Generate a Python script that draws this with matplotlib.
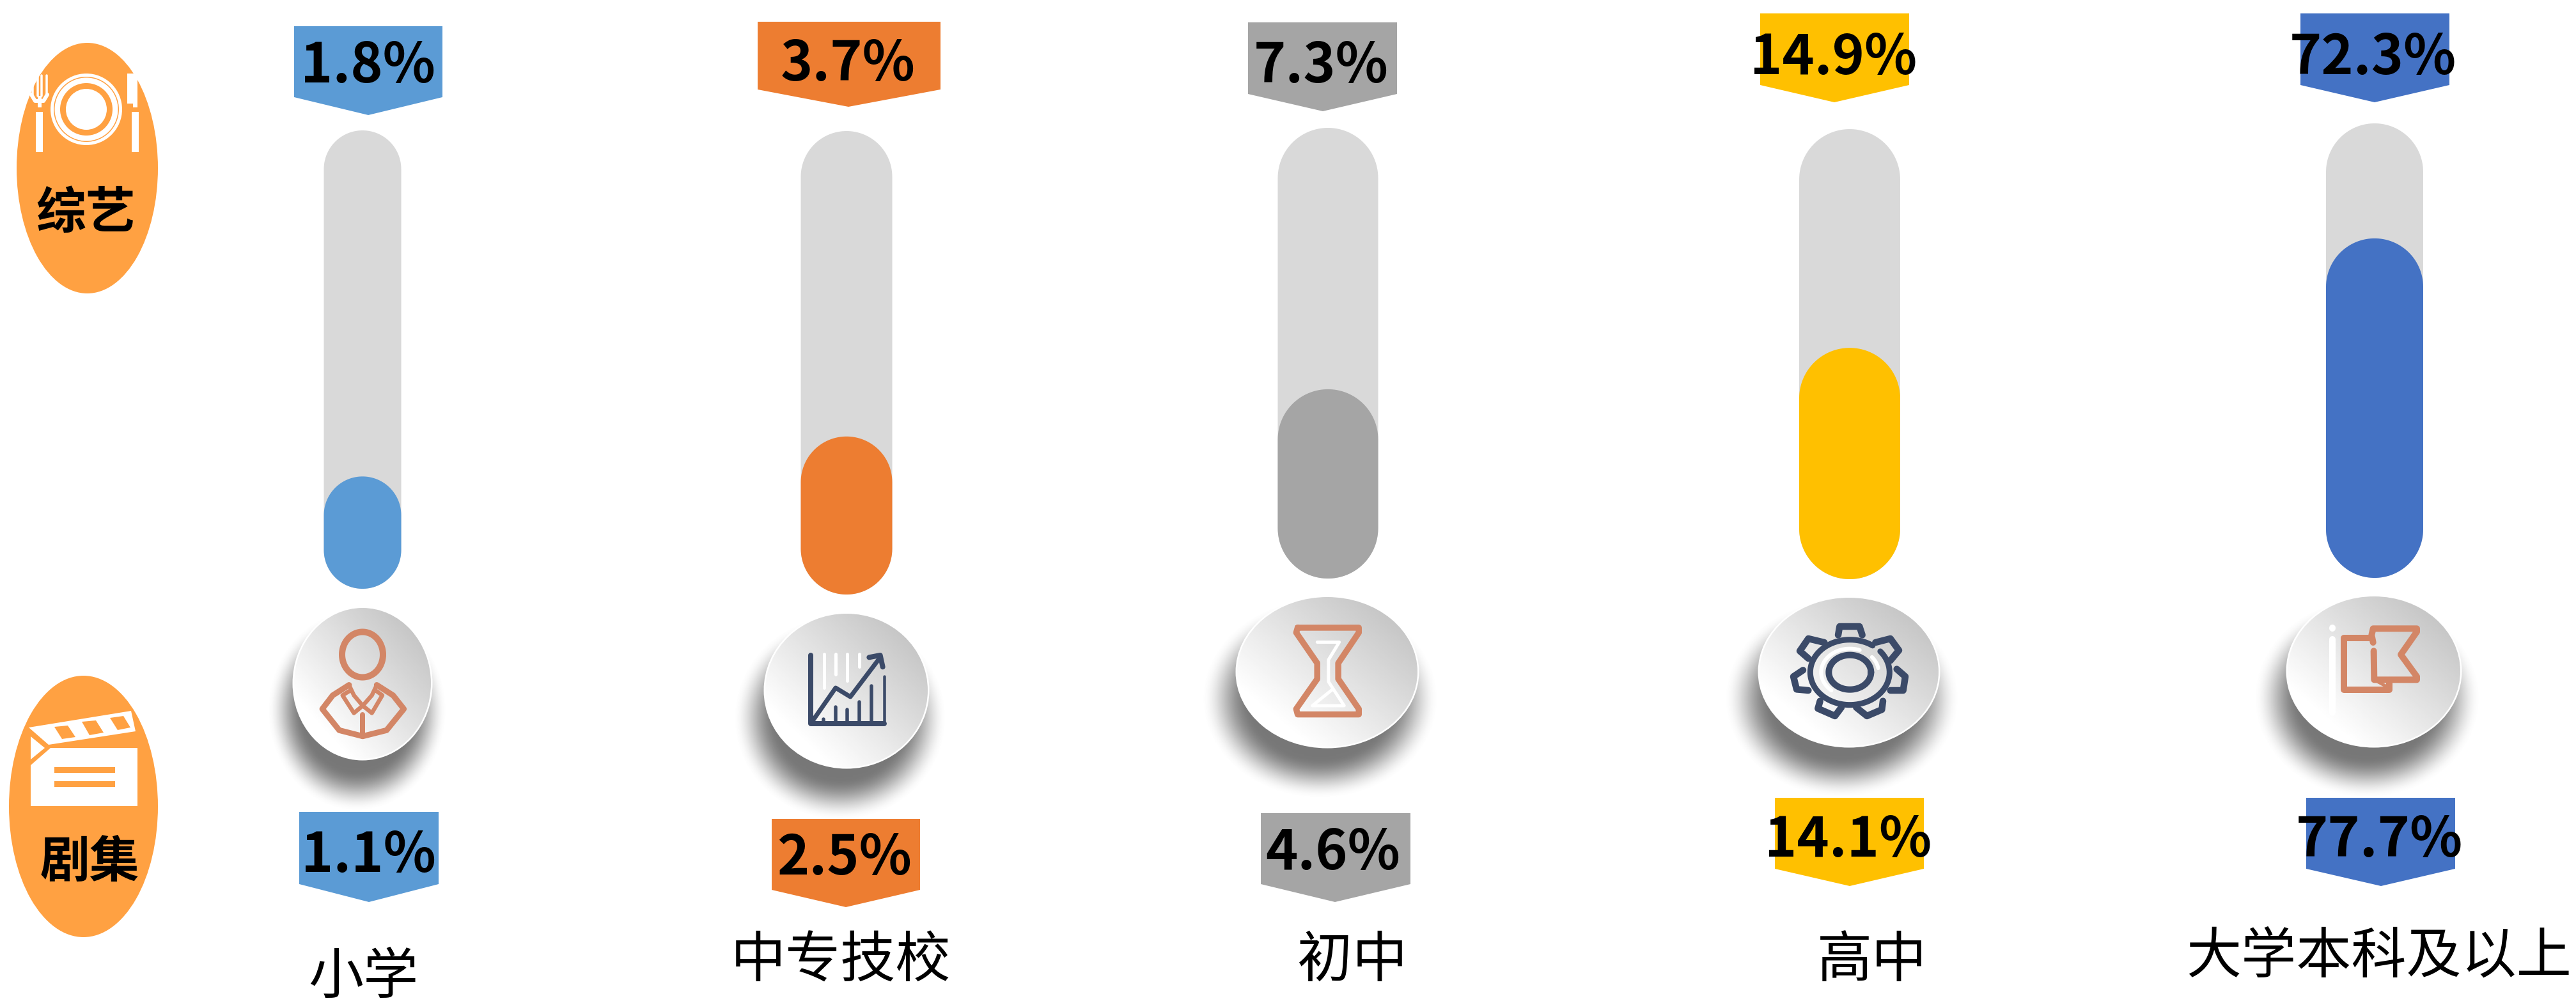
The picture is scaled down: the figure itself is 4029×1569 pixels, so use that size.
import numpy as np
import matplotlib
matplotlib.use('Agg')
import matplotlib.pyplot as plt
from matplotlib.patches import Ellipse, Polygon, Rectangle, Circle

plt.rcParams['font.family'] = ['Noto Sans CJK SC', 'DejaVu Sans']

# data
categories = ['小学', '中专技校', '初中', '高中', '大学本科及以上']
variety_share = [1.8, 3.7, 7.3, 14.9, 72.3]
drama_share = [1.1, 2.5, 4.6, 14.1, 77.7]
# how far each pill is filled (the picture does not fill them in proportion)
fill_level = [0.245, 0.341, 0.42, 0.514, 0.747]

colors = ['#5B9BD5', '#ED7D31', '#A5A5A5', '#FFC000', '#4472C4']
TRACK = '#D9D9D9'
BADGE = '#FFA142'
RUST = '#D38666'
NAVY = '#3B4A68'

# layout in pixels of the 4030x1569 canvas
track_x = [567, 1324, 2077, 2893, 3714]
track_w = [121, 143, 157, 158, 152]
track_top = [204, 205, 200, 202, 193]
track_bot = [921, 930, 905, 906, 904]

top_tags = [(460, 692, 41, 152, 180, 576), (1185, 1471, 34, 140, 167, 1327),
            (1952, 2185, 35, 147, 174, 2069), (2753, 2986, 21, 133, 160, 2869),
            (3598, 3831, 21, 133, 160, 3714)]
bot_tags = [(468, 686, 1270, 1383, 1411, 577), (1207, 1439, 1281, 1392, 1419, 1323),
            (1972, 2206, 1272, 1383, 1411, 2088), (2776, 3009, 1248, 1359, 1386, 2893),
            (3607, 3840, 1248, 1359, 1386, 3724)]
top_text = [(575, 129), (1326, 126), (2066, 129), (2868, 116), (3711, 116)]
bot_text = [(576, 1364), (1321, 1368), (2085, 1360), (2891, 1340), (3721, 1340)]
label_pos = [(568, 1530), (1315, 1504), (2115, 1504), (2928, 1504), (3721, 1497)]
plates = [(567, 1069, 107, 118), (1324, 1080, 127, 120), (2076, 1051, 141, 117),
          (2892, 1051, 140, 116), (3713, 1050, 135, 117)]

fig = plt.figure(figsize=(40.3, 15.69), dpi=100)
ax = fig.add_axes([0, 0, 1, 1])


def pill(cx, w, top, bot, color):
    r = w / 2
    a = np.linspace(np.pi, 0, 60)
    xs = np.r_[cx + r * np.cos(a), cx + r * np.cos(a[::-1])]
    ys = np.r_[top + r - r * np.sin(a), bot - r + r * np.sin(a[::-1])]
    ax.add_patch(Polygon(np.c_[xs, ys], closed=True, fc=color, ec='none'))


def tag(spec, color):
    x0, x1, top, shoulder, tip, tip_x = spec
    pts = [(x0, top), (x1, top), (x1, shoulder), (tip_x, tip), (x0, shoulder)]
    ax.add_patch(Polygon(pts, closed=True, fc=color, ec='none'))


def plate(cx, cy, rx, ry):
    # soft shadow, falls down and to the left
    sx, sy = cx - 0.08 * rx, cy + 0.36 * ry
    xs = np.arange(cx - 2 * rx, cx + 2 * rx, 2.0)
    ys = np.arange(cy - 2 * ry, cy + 2 * ry, 2.0)
    xx, yy = np.meshgrid(xs, ys)
    d = np.hypot((xx - sx) / (rx * 1.08), (yy - sy) / (ry * 1.1))
    t = np.clip((1.22 - d) / 0.5, 0, 1)
    t = t * t * (3 - 2 * t)
    shadow = np.zeros(xx.shape + (4,))
    shadow[..., :3] = 0.47
    shadow[..., 3] = t
    ax.imshow(shadow, extent=(xs[0], xs[-1], ys[-1], ys[0]), aspect='auto', zorder=2,
              interpolation='bilinear')

    # white rim and the light-grey gradient
    ax.add_patch(Ellipse((cx, cy), 2 * rx + 5, 2 * ry + 5, fc='white', ec='none', zorder=3))
    u = np.linspace(0, 1, 120)
    gx, gy = np.meshgrid(u, u)
    g = 0.5 * (gx + (1 - gy))
    shade = 1.0 - 0.22 * np.clip((g - 0.2) / 0.65, 0, 1)
    im = ax.imshow(shade, extent=(cx - rx, cx + rx, cy + ry, cy - ry), cmap='gray', vmin=0, vmax=1,
                   aspect='auto', zorder=4, interpolation='bilinear')
    im.set_clip_path(Ellipse((cx, cy), 2 * rx, 2 * ry, transform=ax.transData))


def line(pts, color, lw, ox=0, oy=0, kx=1.0, ky=1.0, closed=False, z=5):
    pts = list(pts) + ([pts[0]] if closed else [])
    xs = [ox + p[0] / kx for p in pts]
    ys = [oy + p[1] / ky for p in pts]
    ax.plot(xs, ys, color=color, lw=lw * 0.72, solid_capstyle='round', solid_joinstyle='round', zorder=z)


def ring(cx, cy, rx, ry, color, lw, a0=0, a1=360, z=5):
    a = np.radians(np.linspace(a0, a1, 90))
    ax.plot(cx + rx * np.cos(a), cy + ry * np.sin(a), color=color, lw=lw * 0.72,
            solid_capstyle='round', zorder=z)


def person_icon():
    k = dict(ox=0, oy=900, kx=1.96, ky=2.344)
    ring(567, 1024, 32, 35.5, RUST, 10)
    line([(1070, 402), (1020, 440), (988, 490), (1040, 568), (1112, 590), (1185, 568), (1238, 490),
          (1205, 440), (1155, 402)], RUST, 9, **k)
    line([(1070, 402), (1085, 440), (1112, 478), (1085, 505), (1050, 440), (1070, 425)], RUST, 6.5, **k)
    line([(1155, 402), (1140, 440), (1112, 478), (1140, 505), (1172, 440), (1155, 425)], RUST, 6.5, **k)
    line([(1112, 510), (1112, 590)], RUST, 8, **k)


def chart_icon():
    k = dict(ox=1200, oy=950, kx=3, ky=3)
    for x, y0 in [(267, 378), (321, 315), (376, 345), (433, 280)]:
        line([(x, 220), (x, y0)], 'white', 5, **k)
    line([(204, 225), (204, 545), (548, 545)], NAVY, 8, **k)
    line([(548, 545), (548, 325)], NAVY, 4.5, **k)
    for x, y0 in [(265, 525), (321, 468), (376, 480), (433, 445), (490, 368)]:
        line([(x, y0), (x, 545)], NAVY, 5.5, **k)
    line([(215, 530), (321, 378), (390, 420), (530, 235)], NAVY, 7, **k)
    line([(478, 235), (530, 225), (542, 280)], NAVY, 8, **k)


def hourglass_icon():
    k = dict(ox=1100, oy=900, kx=1.307, ky=2.344)
    line([(1255, 245), (1300, 245), (1278, 310), (1278, 390), (1310, 478), (1245, 478), (1285, 420)],
         'white', 5, **k)
    line([(1215, 192), (1340, 192), (1340, 210), (1298, 322), (1298, 380), (1340, 490), (1340, 510),
          (1215, 510), (1212, 490), (1255, 380), (1255, 322), (1212, 210)], RUST, 9.5, closed=True, **k)


def gear_icon():
    k = dict(ox=2760, oy=930, kx=3, ky=3)
    cx, cy = 2760 + 400 / 3, 930 + 365 / 3
    ring(cx, cy, 45, 37, 'white', 6, 130, 290)
    ring(cx, cy, 45, 37, 'white', 6, 320, 350)
    ring(cx, cy, 33, 27, NAVY, 10)
    ring(cx, cy, 62, 51, NAVY, 9, -40, 305)
    teeth = [[(345, 190), (352, 150), (445, 150), (458, 190)],
             [(520, 225), (590, 207), (630, 262), (590, 310)],
             [(620, 350), (660, 385), (650, 450), (590, 450)],
             [(555, 500), (550, 540), (480, 570), (430, 530)],
             [(360, 530), (330, 570), (250, 535), (260, 500)],
             [(205, 450), (150, 445), (135, 385), (180, 355)],
             [(205, 300), (165, 265), (205, 207), (280, 225)]]
    for t in teeth:
        line(t, NAVY, 10.5, **k)


def flag_icon():
    k = dict(ox=3580, oy=930, kx=3, ky=3)
    line([(204, 210), (204, 555)], 'white', 10, **k)
    line([(204, 157), (204, 158)], 'white', 10, **k)
    line([(385, 205), (258, 205), (258, 448), (470, 448), (470, 415)], RUST, 10, **k)
    line([(395, 225), (388, 190), (395, 160), (600, 160), (600, 175), (525, 282), (600, 385), (600, 400),
          (400, 400), (398, 265)], RUST, 10, **k)
    line([(400, 400), (455, 430)], RUST, 5, **k)


def plate_badge():
    # top badge with fork, plate and knife
    ax.add_patch(Ellipse((136.5, 263), 221, 392, fc=BADGE, ec='none'))
    c = (135, 171)
    ax.add_patch(Circle(c, 56, fc='white', ec='none'))
    ax.add_patch(Circle(c, 51, fc=BADGE, ec='none'))
    ax.add_patch(Circle(c, 49.5, fc='white', ec='none'))
    ax.add_patch(Circle(c, 41, fc=BADGE, ec='none'))
    ax.add_patch(Circle(c, 32, fc='white', ec='none'))
    for x0, x1, y0, y1 in [(56, 67, 175, 238), (206, 217, 175, 238), (59, 65, 150, 168),
                           (208, 215, 140, 168), (199, 215, 115, 162)]:
        ax.add_patch(Rectangle((x0, y0), x1 - x0, y1 - y0, fc='white', ec='none'))
    for x in [51, 59, 65, 73]:
        line([(x, 118), (x, 150)], 'white', 3.5)
    line([(49, 148), (55, 158), (68, 158), (74, 148)], 'white', 6)


def clapper_badge():
    ax.add_patch(Ellipse((130.5, 1261.5), 233, 409, fc=BADGE, ec='none'))
    ax.add_patch(Polygon([(79, 1170), (215, 1170), (215, 1261), (48, 1261), (48, 1197)], fc='white', ec='none'))
    ax.add_patch(Polygon([(48, 1152), (70, 1170), (48, 1188)], fc='white', ec='none'))
    ax.add_patch(Polygon([(45, 1138), (205, 1112), (212, 1144), (76, 1165)], fc='white', ec='none'))
    for s in [[(85, 1137), (106, 1135), (118, 1153), (97, 1156)],
              [(128, 1129), (150, 1127), (162, 1146), (140, 1150)],
              [(172, 1123), (193, 1120), (204, 1138), (184, 1142)]]:
        ax.add_patch(Polygon(s, fc=BADGE, ec='none'))
    ax.add_patch(Rectangle((85, 1200), 95, 9, fc=BADGE, ec='none'))
    ax.add_patch(Rectangle((85, 1222), 95, 9, fc=BADGE, ec='none'))


for i, cat in enumerate(categories):
    pill(track_x[i], track_w[i], track_top[i], track_bot[i], TRACK)
    fill_top = track_bot[i] - fill_level[i] * (track_bot[i] - track_top[i])
    pill(track_x[i], track_w[i], fill_top, track_bot[i], colors[i])
    tag(top_tags[i], colors[i])
    tag(bot_tags[i], colors[i])
    ax.text(top_text[i][0], top_text[i][1], f'{variety_share[i]}%', ha='center', va='baseline',
            fontsize=61.5, fontweight='bold', color='black', zorder=6)
    ax.text(bot_text[i][0], bot_text[i][1], f'{drama_share[i]}%', ha='center', va='baseline',
            fontsize=61.5, fontweight='bold', color='black', zorder=6)
    ax.text(label_pos[i][0], label_pos[i][1], cat, ha='center', va='center', fontsize=62, color='black')
    plate(*plates[i])

person_icon()
chart_icon()
hourglass_icon()
gear_icon()
flag_icon()

plate_badge()
clapper_badge()
ax.text(134, 334, '综艺', ha='center', va='center', fontsize=56, fontweight='bold', color='black')
ax.text(140, 1349, '剧集', ha='center', va='center', fontsize=56, fontweight='bold', color='black')

ax.set_xlim(0, 4030)
ax.set_ylim(1569, 0)
ax.axis('off')
fig.savefig('out.png', dpi=100, facecolor='white')
